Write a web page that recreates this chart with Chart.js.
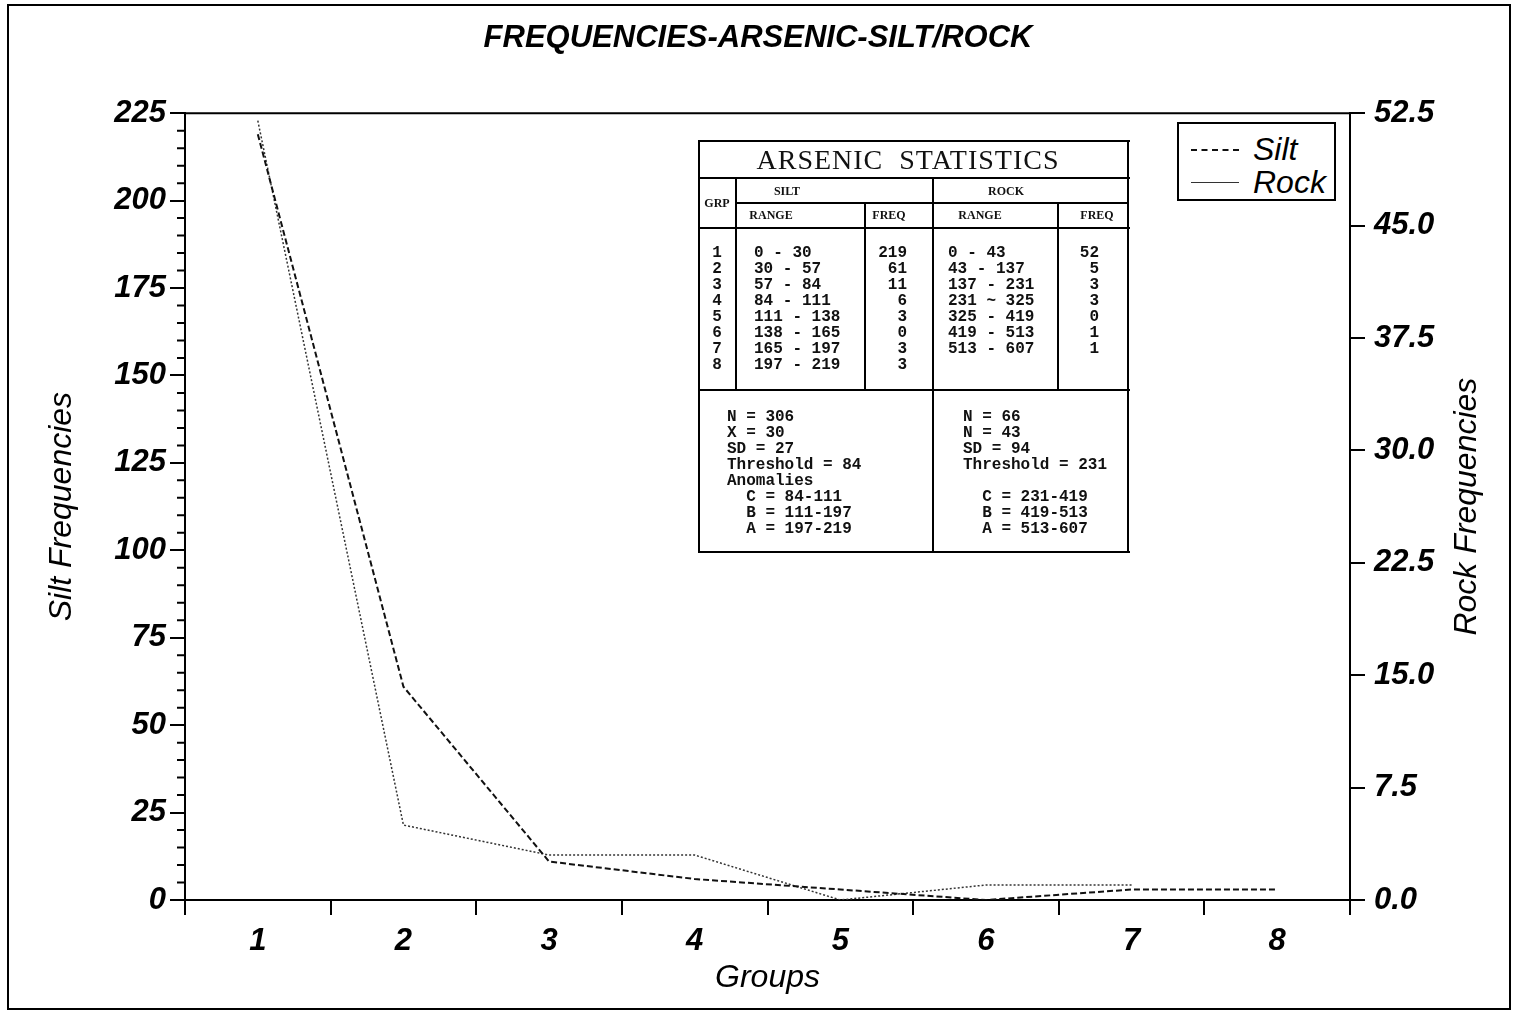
<!DOCTYPE html>
<html>
<head>
<meta charset="utf-8">
<script src="https://cdn.jsdelivr.net/npm/chart.js@4.4.1/dist/chart.umd.min.js"></script>
<style>
html, body { margin: 0; padding: 0; background: #fff; }
#wrap { position: relative; width: 1516px; height: 1014px; overflow: hidden; }
#wrap canvas { position: absolute; left: 0; top: 0; }
#frame { position: absolute; left: 7px; top: 4px; width: 1500px; height: 1002px; border: 2px solid #000; pointer-events: none; }
.ln { position: absolute; background: #000; }
.col { position: absolute; margin: 0; white-space: pre; font: bold 16px "Liberation Mono", "DejaVu Sans Mono", monospace; line-height: 16px; color: #111; }
.hd { position: absolute; font: bold 12px "Liberation Serif", "DejaVu Serif", serif; color: #111; transform: translate(-50%, -50%); white-space: nowrap; }
#statTitle { position: absolute; left: 908px; top: 160px; transform: translate(-50%, -50%); font: 28px "Liberation Serif", "DejaVu Serif", serif; letter-spacing: 1px; white-space: pre; color: #111; }
#legend { position: absolute; left: 1177px; top: 122px; width: 155px; height: 75px; border: 2px solid #000; background: #fff; }
.lgline { position: absolute; left: 12px; width: 48px; }
.lgtext { position: absolute; left: 74px; font: italic 32px "Liberation Sans", Arial, sans-serif; line-height: 32px; color: #000; }
</style>
</head>
<body>
<div id="wrap">
  <canvas id="grafico" width="1516" height="1014"></canvas>
  <div id="frame"></div>
  <div id="legend">
    <div class="lgline" style="top:25px;border-top:2px dashed #111;"></div>
    <div class="lgtext" style="top:9px;">Silt</div>
    <div class="lgline" style="top:58px;border-top:1px solid #333;"></div>
    <div class="lgtext" style="top:42px;">Rock</div>
  </div>
</div>
<script>
// Dados do gráfico
const grupos = ["1", "2", "3", "4", "5", "6", "7", "8"];
const siltFreq = [219, 61, 11, 6, 3, 0, 3, 3];
const rockFreq = [52, 5, 3, 3, 0, 1, 1];

// Dados da tabela de estatísticas
const siltRanges = ["0 - 30", "30 - 57", "57 - 84", "84 - 111", "111 - 138", "138 - 165", "165 - 197", "197 - 219"];
const rockRanges = ["0 - 43", "43 - 137", "137 - 231", "231 ~ 325", "325 - 419", "419 - 513", "513 - 607"];
const siltStats = ["N = 306", "X = 30", "SD = 27", "Threshold = 84", "Anomalies", "  C = 84-111", "  B = 111-197", "  A = 197-219"];
const rockStats = ["N = 66", "N = 43", "SD = 94", "Threshold = 231", "", "  C = 231-419", "  B = 419-513", "  A = 513-607"];

const fonte = '"Liberation Sans", Arial, sans-serif';

// Montar a tabela ARSENIC STATISTICS
const wrap = document.getElementById("wrap");

function linha(x, y, w, h) {
	const d = document.createElement("div");
	d.className = "ln";
	d.style.left = x + "px";
	d.style.top = y + "px";
	d.style.width = w + "px";
	d.style.height = h + "px";
	wrap.appendChild(d);
}

function cabecalho(x, y, texto) {
	const d = document.createElement("div");
	d.className = "hd";
	d.style.left = x + "px";
	d.style.top = y + "px";
	d.textContent = texto;
	wrap.appendChild(d);
}

function coluna(x, y, linhas, alinhar) {
	const d = document.createElement("pre");
	d.className = "col";
	d.style.top = y + "px";
	if (alinhar === "right") {
		d.style.right = (1516 - x) + "px";
		d.style.textAlign = "right";
	} else if (alinhar === "center") {
		d.style.left = (x - 20) + "px";
		d.style.width = "40px";
		d.style.textAlign = "center";
	} else {
		d.style.left = x + "px";
	}
	d.textContent = linhas.join("\n");
	wrap.appendChild(d);
}

// bordas da tabela
linha(698, 140, 432, 2);
linha(698, 551, 432, 2);
linha(698, 140, 2, 413);
linha(1127, 140, 2, 413);
linha(698, 177, 432, 2);
linha(736, 202, 392, 2);
linha(698, 227, 432, 2);
linha(698, 389, 432, 2);
linha(735, 177, 2, 213);
linha(932, 177, 2, 375);
linha(864, 202, 2, 188);
linha(1057, 202, 2, 188);

const titulo = document.createElement("div");
titulo.id = "statTitle";
titulo.textContent = "ARSENIC  STATISTICS";
wrap.appendChild(titulo);

cabecalho(717, 203, "GRP");
cabecalho(787, 191, "SILT");
cabecalho(1006, 191, "ROCK");
cabecalho(771, 215, "RANGE");
cabecalho(889, 215, "FREQ");
cabecalho(980, 215, "RANGE");
cabecalho(1097, 215, "FREQ");

coluna(717, 245, grupos, "center");
coluna(754, 245, siltRanges, "left");
coluna(907, 245, siltFreq.map(String), "right");
coluna(948, 245, rockRanges, "left");
coluna(1099, 245, rockFreq.map(String), "right");
coluna(727, 409, siltStats, "left");
coluna(963, 409, rockStats, "left");

// Plugin: linha superior da moldura, ticks menores e título do eixo direito
const moldura = {
	id: "moldura",
	afterDraw(chart) {
		const { ctx, chartArea, scales } = chart;
		ctx.save();
		ctx.strokeStyle = "#000";
		ctx.lineWidth = 2;
		ctx.beginPath();
		ctx.moveTo(chartArea.left - 1, chartArea.top);
		ctx.lineTo(chartArea.right + 1, chartArea.top);
		for (let v = 5; v < 225; v += 5) {
			if (v % 25 === 0) continue;
			const py = scales.y.getPixelForValue(v);
			ctx.moveTo(chartArea.left - 8, py);
			ctx.lineTo(chartArea.left, py);
		}
		ctx.stroke();

		// título do eixo direito, lido de baixo para cima
		ctx.translate(scales.y1.right - 49, (chartArea.top + chartArea.bottom) / 2);
		ctx.rotate(-Math.PI / 2);
		ctx.fillStyle = "#000";
		ctx.font = "italic 32px " + fonte;
		ctx.textAlign = "center";
		ctx.textBaseline = "middle";
		ctx.fillText("Rock Frequencies", 0, 0);
		ctx.restore();
	},
};

const ctx = document.getElementById("grafico");

const chart = new Chart(ctx, {
	type: "line",
	data: {
		labels: grupos,
		datasets: [
			{
				label: "Silt",
				data: siltFreq,
				yAxisID: "y",
				borderColor: "#111",
				borderWidth: 2,
				borderDash: [6, 3],
				pointRadius: 0,
				tension: 0,
				fill: false,
			},
			{
				label: "Rock",
				data: rockFreq,
				yAxisID: "y1",
				borderColor: "#333",
				borderWidth: 1.5,
				borderDash: [2, 2],
				pointRadius: 0,
				tension: 0,
				fill: false,
			},
		],
	},
	options: {
		responsive: false,
		animation: false,
		devicePixelRatio: 1,
		layout: { padding: 0 },
		plugins: {
			legend: { display: false },
			tooltip: { enabled: false },
			title: {
				display: true,
				text: "FREQUENCIES-ARSENIC-SILT/ROCK",
				color: "#000",
				font: { family: fonte, size: 31, style: "italic", weight: "bold" },
				padding: { top: 20, bottom: 56 },
			},
		},
		scales: {
			x: {
				type: "category",
				offset: true,
				grid: { offset: true, drawOnChartArea: false, tickLength: 15, color: "#000", lineWidth: 2 },
				border: { color: "#000", width: 2 },
				ticks: {
					color: "#000",
					padding: 8,
					maxRotation: 0,
					font: { family: fonte, size: 31, style: "italic", weight: "bold" },
				},
				title: {
					display: true,
					text: "Groups",
					color: "#000",
					font: { family: fonte, size: 32, style: "italic" },
					padding: { top: 0, bottom: 17 },
				},
				afterFit: (s) => {
					s.height = 114;
				},
			},
			y: {
				position: "left",
				min: 0,
				max: 225,
				grid: { drawOnChartArea: false, tickLength: 15, color: "#000", lineWidth: 2 },
				border: { color: "#000", width: 2 },
				ticks: {
					stepSize: 25,
					color: "#000",
					padding: 4,
					font: { family: fonte, size: 31, style: "italic", weight: "bold" },
				},
				title: {
					display: true,
					text: "Silt Frequencies",
					color: "#000",
					font: { family: fonte, size: 32, style: "italic" },
					padding: { top: 43, bottom: 0 },
				},
				afterFit: (s) => {
					s.width = 185;
				},
			},
			y1: {
				position: "right",
				min: 0,
				max: 52.5,
				grid: { drawOnChartArea: false, tickLength: 15, color: "#000", lineWidth: 2 },
				border: { color: "#000", width: 2 },
				ticks: {
					stepSize: 7.5,
					color: "#000",
					padding: 9,
					font: { family: fonte, size: 31, style: "italic", weight: "bold" },
					callback: (v) => Number(v).toFixed(1),
				},
				title: { display: false },
				afterFit: (s) => {
					s.width = 166;
				},
			},
		},
	},
	plugins: [moldura],
});
</script>
</body>
</html>
